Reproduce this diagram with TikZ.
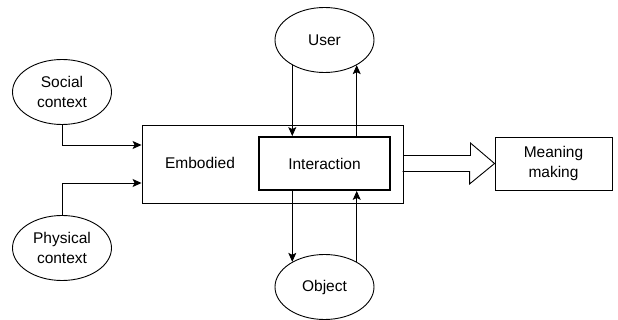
\documentclass[tikz,border=0pt]{standalone}
\usepackage{fontspec}
\setmainfont{Liberation Sans}
\usetikzlibrary{arrows.meta,shapes.geometric}

\begin{document}
\begin{tikzpicture}[x=1pt,y=-1pt,>={Stealth[length=9pt,width=8pt,inset=2pt]},
    font=\fontsize{15.5}{19.5}\selectfont,line width=0.9pt]
    \tikzstyle{every node}=[align=center,text=black]
    \tikzstyle{ell}=[ellipse,draw,minimum width=99pt,minimum height=65pt,inner sep=0pt]
    \tikzstyle{boxed}=[rectangle,draw,inner sep=0pt]
    \useasboundingbox (0,0) rectangle (618,320);
    \node[boxed,minimum width=261pt,minimum height=78pt] (emb) at (272.5,164) {};
    \node (embtxt) at (200,163) {Embodied};
    \node[boxed,line width=1.8pt,minimum width=131pt,minimum height=53pt] (inter) at (324.5,163.5) {Interaction};
    \node[boxed,minimum width=117pt,minimum height=53pt] (mean) at (553.5,163.5) {Meaning\\making};
    \node[ell] (user) at (324.5,40)  {User};
    \node[ell] (obj)  at (324.5,287) {Object};
    \node[ell] (soc)  at (62,92)     {Social\\context};
    \node[ell] (phy)  at (62,248)    {Physical\\context};
    % context into the embodied box
    \draw[->] (soc) |- ([yshift=19pt]emb.west);
    \draw[->] (phy) |- ([yshift=-19pt]emb.west);
    % user and object loops
    \draw[->] (user.218) -- (user.218 |- inter.north);
    \draw[->] (user.322 |- inter.north) -- (user.322);
    \draw[->] (obj.142 |- inter.south) -- (obj.142);
    \draw[->] (obj.38) -- (obj.38 |- inter.south);
    % hollow arrow to meaning making
    \draw (emb.east) ++(0,-8.5) -- ++(67,0) -- ++(0,-12.5) -- (mean.west)
        -- ++(-25,20.5) -- ++(0,-12.5) -- ++(-67,0);
\end{tikzpicture}
\end{document}
